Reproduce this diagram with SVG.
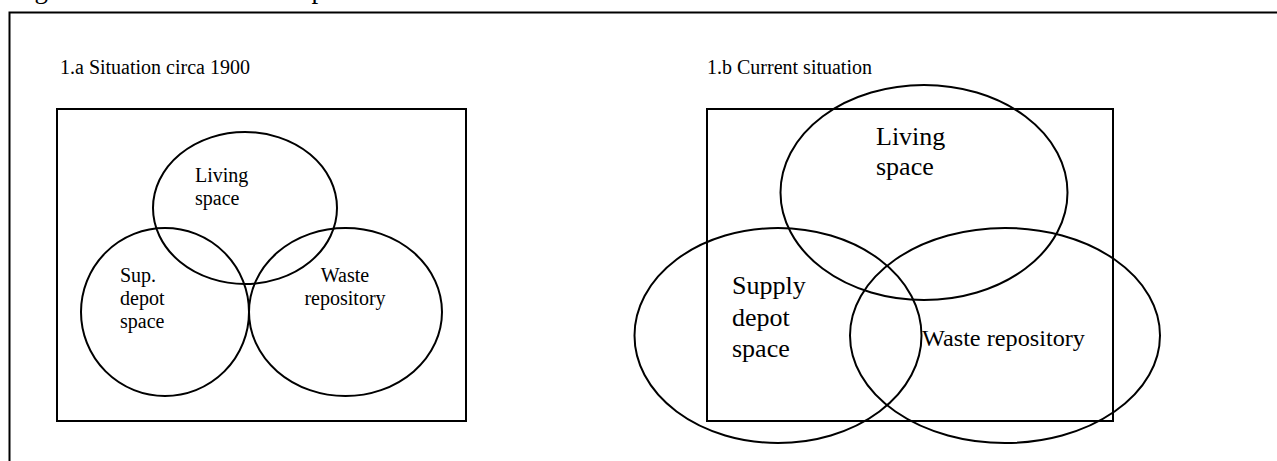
<svg xmlns="http://www.w3.org/2000/svg" width="1277" height="461" viewBox="0 0 1277 461">
<style>
.ln{fill:none;stroke:#000;stroke-width:2}
.t{font-family:"Liberation Serif","Times New Roman",serif;fill:#000}
.t20{font-size:20px}
.t26{font-size:26px}
</style>
<rect width="1277" height="461" fill="#fff"/>
<text class="t" x="12" y="-2.5" font-size="27">Figure 1 The three uses of space</text>
<path class="ln" d="M9.5,461 V12.5 H1277"/>
<text class="t t20" x="60" y="74">1.a Situation circa 1900</text>
<text class="t t20" x="707" y="74">1.b Current situation</text>
<g id="frame-a"><rect class="ln" x="57" y="109" width="409" height="312"/></g>
<g id="frame-b"><rect class="ln" x="707" y="109" width="406" height="312"/></g>
<g id="a-living"><ellipse class="ln" cx="245" cy="208" rx="92" ry="76"/>
<text class="t t20" x="195" y="182">Living</text><text class="t t20" x="195" y="205">space</text></g>
<g id="a-supply"><ellipse class="ln" cx="165" cy="312" rx="84" ry="84"/>
<text class="t t20" x="120" y="282">Sup.</text><text class="t t20" x="120" y="305">depot</text><text class="t t20" x="120" y="328">space</text></g>
<g id="a-waste"><ellipse class="ln" cx="345.5" cy="312" rx="96.5" ry="84"/>
<text class="t t20" x="345" y="282" text-anchor="middle">Waste</text><text class="t t20" x="345" y="305" text-anchor="middle">repository</text></g>
<g id="b-living"><ellipse class="ln" cx="924" cy="192.5" rx="143.5" ry="107.5"/>
<text class="t t26" x="876" y="145">Living</text><text class="t t26" x="876" y="175">space</text></g>
<g id="b-supply"><ellipse class="ln" cx="778" cy="335.5" rx="143.5" ry="107.5"/>
<text class="t t26" x="732" y="294">Supply</text><text class="t t26" x="732" y="326">depot</text><text class="t t26" x="732" y="357">space</text></g>
<g id="b-waste"><ellipse class="ln" cx="1005" cy="335.5" rx="155" ry="107.5"/>
<text class="t" x="922" y="346" font-size="23" textLength="163" lengthAdjust="spacingAndGlyphs">Waste repository</text></g>
<g id="connectors"></g>
</svg>
